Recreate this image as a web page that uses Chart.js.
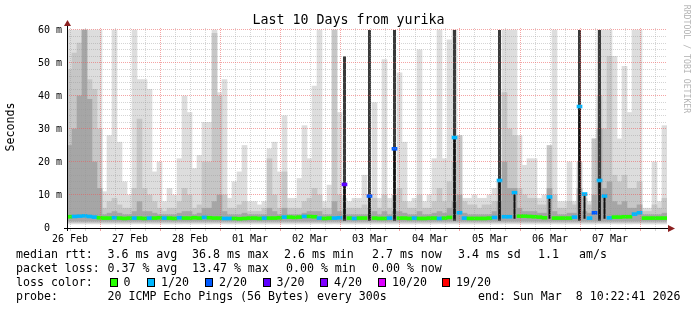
<!DOCTYPE html>
<html>
<head>
<meta charset="utf-8">
<script src="https://cdn.jsdelivr.net/npm/chart.js@4.4.1/dist/chart.umd.min.js"></script>
<style>
  html, body { margin: 0; padding: 0; background: #fff; }
  #wrap { position: relative; width: 697px; height: 310px; overflow: hidden;
          font-family: "DejaVu Sans Mono", monospace; color: #000; }
  #wrap canvas { position: absolute; left: 0; top: 0; }
  .t { position: absolute; white-space: pre; font-size: 11.6px; line-height: 14px; }
  .box { position: absolute; width: 6px; height: 7px; border: 1px solid #000; top: 278px; }
</style>
</head>
<body>
<div id="wrap">
  <canvas id="smoke" width="697" height="310"></canvas>
  <div class="t" style="left:0; width:697px; text-align:center; top:12px; font-size:13.3px; line-height:16px;">Last 10 Days from yurika</div>
  <div class="t" style="left:-30px; width:80px; text-align:center; top:120px; transform:rotate(-90deg);">Seconds</div>
  <div class="t" style="left:627px; width:120px; text-align:center; top:54px; font-size:8.2px; line-height:10px; color:#b4b4b4; transform:rotate(90deg);">RRDTOOL / TOBI OETIKER</div>

  <div class="t" style="left:16px; top:247px;">median rtt:</div>
  <div class="t" style="left:107.5px; top:247px;">3.6 ms avg</div>
  <div class="t" style="left:192px; top:247px;">36.8 ms max</div>
  <div class="t" style="left:284px; top:247px;">2.6 ms min</div>
  <div class="t" style="left:372px; top:247px;">2.7 ms now</div>
  <div class="t" style="left:458px; top:247px;">3.4 ms sd</div>
  <div class="t" style="left:538px; top:247px;">1.1</div>
  <div class="t" style="left:579px; top:247px;">am/s</div>

  <div class="t" style="left:16px; top:261px;">packet loss:</div>
  <div class="t" style="left:107.5px; top:261px;">0.37 % avg</div>
  <div class="t" style="left:192px; top:261px;">13.47 % max</div>
  <div class="t" style="left:286px; top:261px;">0.00 % min</div>
  <div class="t" style="left:372px; top:261px;">0.00 % now</div>

  <div class="t" style="left:16px; top:275px;">loss color:</div>
  <div id="losskey"></div>

  <div class="t" style="left:16px; top:289px;">probe:</div>
  <div class="t" style="left:107.5px; top:289px;">20 ICMP Echo Pings (56 Bytes) every 300s</div>
  <div class="t" style="left:478px; top:289px;">end: Sun Mar  8 10:22:41 2026</div>
</div>

<script>
// 10 days, one column per 2 hours, starting 26 Feb ~10:48
const dayLabels = ['26 Feb', '27 Feb', '28 Feb', '01 Mar', '02 Mar', '03 Mar', '04 Mar', '05 Mar', '06 Mar', '07 Mar'];
const startHour = 10.8;   // hours after 26 Feb 00:00
const spanHours = 240;

// smoke: top of the light / mid / dark bands (ms)
const lightTop = [
  60, 60, 60, 60, 60, 60, 60, 11, 28, 60,
  26, 14, 10, 60, 45, 45, 42, 17, 20, 8,
  12, 10, 21, 40, 35, 18, 22, 32, 32, 60,
  41, 45, 9, 14, 17, 25, 8, 8, 7, 8,
  24, 26, 17, 34, 9, 9, 15, 31, 21, 43,
  60, 8, 13, 60, 35, 9, 8, 9, 9, 16,
  9, 38, 9, 51, 9, 9, 47, 26, 8, 9,
  54, 8, 10, 21, 60, 21, 57, 60, 28, 9,
  9, 10, 9, 9, 10, 12, 10, 60, 60, 60,
  28, 19, 21, 21, 9, 10, 10, 60, 8, 8,
  20, 8, 10, 10, 8, 27, 60, 60, 60, 52,
  27, 49, 35, 60, 60, 6, 6, 20, 8, 31
];
const midTop = [
  48, 53, 56, 60, 45, 42, 30, 6, 8, 9,
  7, 6, 6, 12, 33, 12, 10, 8, 6, 5,
  6, 6, 8, 12, 10, 6, 7, 20, 20, 59,
  40, 10, 6, 6, 7, 8, 5, 5, 5, 6,
  21, 10, 6, 17, 6, 6, 6, 8, 9, 12,
  10, 6, 6, 60, 10, 6, 6, 6, 6, 7,
  6, 9, 6, 10, 6, 10, 12, 8, 6, 6,
  10, 6, 6, 8, 12, 8, 14, 20, 28, 8,
  7, 7, 6, 7, 7, 8, 14, 41, 30, 28,
  12, 10, 9, 9, 7, 7, 25, 10, 6, 6,
  8, 7, 20, 9, 7, 27, 40, 30, 52, 16,
  14, 16, 12, 12, 14, 5, 5, 7, 6, 9
];
const darkTop = [
  25, 30, 40, 60, 39, 20, 12, 4, 4.5, 5,
  4.5, 4, 4, 5, 8, 5, 5, 4.5, 4, 4,
  4, 4, 4.5, 5, 5, 4, 4.5, 6, 6, 8,
  10, 5, 4, 4, 4, 4.5, 4, 4, 4, 4,
  6, 5, 4, 6, 4, 4, 4, 4.5, 5, 5,
  5, 4, 4, 8, 5, 4, 4, 4, 4, 4,
  4, 5, 4, 5, 4, 5, 5, 4.5, 4, 4,
  5, 4, 4, 4.5, 5, 4.5, 6, 8, 10, 4.5,
  4, 4, 4, 4, 4, 5, 8, 20, 12, 12,
  6, 5, 5, 5, 4.5, 4.5, 12, 5, 4, 4,
  4.5, 4.5, 12, 5, 4.5, 10, 30, 12, 14, 8,
  7, 8, 6, 6, 7, 4, 4, 4, 4, 4.5
];
// near-black spikes (0 = none)
const spikeTop = [
  0, 0, 0, 0, 0, 0, 0, 0, 0, 0,
  0, 0, 0, 0, 0, 0, 0, 0, 0, 0,
  0, 0, 0, 0, 0, 0, 0, 0, 0, 0,
  0, 0, 0, 0, 0, 0, 0, 0, 0, 0,
  0, 0, 0, 0, 0, 0, 0, 0, 0, 0,
  0, 0, 0, 0, 0, 52, 0, 0, 0, 0,
  60, 0, 0, 0, 0, 60, 0, 0, 0, 0,
  0, 0, 0, 0, 0, 0, 0, 60, 0, 0,
  0, 0, 0, 0, 0, 0, 60, 0, 0, 0,
  0, 0, 0, 0, 0, 0, 0, 0, 0, 0,
  0, 0, 60, 0, 0, 0, 60, 0, 0, 0,
  0, 0, 0, 0, 0, 0, 0, 0, 0, 0
];
// median rtt (ms) and loss step per column
const median = [
  3.4, 3.5, 3.6, 3.7, 3.5, 3.3, 3.1, 3.0, 3.0, 3.1,
  3.0, 2.9, 3.0, 3.0, 3.0, 2.9, 3.0, 3.0, 3.1, 3.0,
  3.0, 2.9, 3.1, 3.0, 3.0, 3.1, 3.0, 3.2, 3.1, 3.0,
  3.0, 2.9, 2.9, 2.9, 2.8, 2.9, 3.0, 3.0, 2.9, 3.0,
  3.0, 3.0, 3.1, 3.3, 3.3, 3.2, 3.3, 3.5, 3.5, 3.4,
  3.0, 2.9, 3.0, 3.0, 3.1, 13.2, 3.0, 2.9, 3.0, 3.0,
  9.7, 3.0, 2.9, 2.9, 3.0, 24.0, 3.0, 3.0, 2.9, 3.0,
  2.9, 2.9, 3.0, 3.0, 2.9, 3.0, 3.2, 27.4, 4.6, 3.0,
  2.9, 2.9, 2.9, 2.9, 3.0, 3.2, 14.4, 3.4, 3.4, 10.7,
  3.6, 3.6, 3.5, 3.4, 3.3, 3.1, 9.4, 3.0, 3.0, 3.0,
  3.0, 3.3, 36.8, 10.3, 3.0, 4.6, 14.4, 9.7, 3.1, 3.3,
  3.3, 3.4, 3.4, 4.2, 4.6, 3.0, 3.0, 3.0, 3.0, 3.0
];
const loss = [
  0, 1, 1, 1, 1, 1, 0, 0, 0, 1,
  0, 0, 0, 1, 0, 0, 1, 0, 0, 1,
  0, 0, 1, 0, 0, 0, 0, 1, 0, 0,
  0, 1, 1, 0, 0, 0, 0, 0, 0, 1,
  0, 0, 0, 1, 0, 0, 0, 1, 0, 0,
  1, 0, 0, 1, 1, 3, 0, 1, 0, 0,
  2, 0, 0, 0, 1, 2, 0, 0, 0, 1,
  0, 0, 0, 0, 1, 0, 0, 1, 1, 1,
  0, 0, 0, 0, 0, 1, 1, 1, 1, 1,
  0, 0, 0, 0, 0, 0, 1, 0, 0, 0,
  0, 1, 1, 1, 1, 2, 1, 1, 1, 0,
  0, 0, 0, 1, 1, 0, 0, 0, 0, 0
];
const lossSteps = ['0', '1/20', '2/20', '3/20', '4/20', '10/20', '19/20'];
const lossColors = ['#26ff00', '#00b8ff', '#0059ff', '#5e00ff', '#7e00ff', '#dd00ff', '#ff0000'];

// loss colour key
const keyLeft = [109.5, 147, 205, 262.5, 320, 378, 442];
const key = document.getElementById('losskey');
lossSteps.forEach((s, i) => {
  const b = document.createElement('div');
  b.className = 'box';
  b.style.left = keyLeft[i] + 'px';
  b.style.background = lossColors[i];
  key.appendChild(b);
  const t = document.createElement('div');
  t.className = 't';
  t.style.left = (keyLeft[i] + 14) + 'px';
  t.style.top = '275px';
  t.textContent = s;
  key.appendChild(t);
});

const band = (tops, base) => tops.map(v => v > base ? [base, v] : null);
const MAJOR = 'rgba(235,90,90,0.55)';
const MINOR = 'rgba(150,150,150,0.4)';
const tickFont = { family: 'DejaVu Sans Mono', size: 10 };

const axisArrows = {
  id: 'axisArrows',
  afterDraw(chart) {
    const { ctx, chartArea: a } = chart;
    ctx.save();
    ctx.strokeStyle = '#000';
    ctx.lineWidth = 1;
    ctx.beginPath();
    ctx.moveTo(a.left - 3, a.bottom + 0.5);
    ctx.lineTo(a.right + 2, a.bottom + 0.5);
    ctx.moveTo(a.left + 0.5, a.bottom + 3);
    ctx.lineTo(a.left + 0.5, a.top - 3);
    ctx.stroke();
    ctx.fillStyle = '#8c2020';
    ctx.beginPath();
    ctx.moveTo(a.right + 1, a.bottom - 3);
    ctx.lineTo(a.right + 8, a.bottom + 0.5);
    ctx.lineTo(a.right + 1, a.bottom + 4);
    ctx.fill();
    ctx.beginPath();
    ctx.moveTo(a.left - 3, a.top - 2);
    ctx.lineTo(a.left + 0.5, a.top - 8);
    ctx.lineTo(a.left + 4, a.top - 2);
    ctx.fill();
    ctx.restore();
  }
};

new Chart(document.getElementById('smoke'), {
  type: 'bar',
  data: {
    labels: lightTop.map((_, i) => i),
    datasets: [
      { data: median.map(m => [m - 0.45, m + 0.45]), backgroundColor: loss.map(i => lossColors[i]), order: 0 },
      { data: median.map(m => m > 5 ? [2.8, m] : null), backgroundColor: '#111', barPercentage: 0.4, order: 1 },
      { data: band(spikeTop, 2.2), backgroundColor: '#3a3a3a', barPercentage: 0.6, order: 2 },
      { data: band(darkTop, 2.1), backgroundColor: '#a6a6a6', order: 3 },
      { data: band(midTop, 1.6), backgroundColor: '#c6c6c6', order: 4 },
      { data: band(lightTop, 1.2), backgroundColor: '#dddddd', order: 5 }
    ].map(d => Object.assign({ xAxisID: 'xb', borderWidth: 0, categoryPercentage: 1, barPercentage: 1, grouped: false }, d))
  },
  options: {
    responsive: false,
    animation: false,
    layout: { padding: { top: 28, right: 30, left: 0, bottom: 0 } },
    plugins: { legend: { display: false }, tooltip: { enabled: false } },
    scales: {
      xb: { type: 'category', display: false, offset: true },
      x: {
        type: 'linear', position: 'bottom', offset: false,
        min: startHour, max: startHour + spanHours,
        afterBuildTicks: s => {
          s.ticks = [];
          for (let h = Math.ceil(startHour / 6) * 6; h <= startHour + spanHours; h += 6) s.ticks.push({ value: h });
        },
        afterFit: s => { s.height = 82; },
        ticks: {
          autoSkip: false, maxRotation: 0, padding: 2, color: '#000', font: tickFont,
          callback: v => v % 24 === 12 ? dayLabels[Math.floor(v / 24)] : ''
        },
        grid: {
          z: 1, offset: false, tickLength: 3,
          color: c => c.tick && c.tick.value % 24 === 0 ? MAJOR : MINOR,
          tickColor: c => c.tick && c.tick.value % 24 === 0 ? MAJOR : MINOR
        },
        border: { display: false, dash: [1, 1] }
      },
      y: {
        min: 0, max: 60.6,
        afterBuildTicks: s => {
          s.ticks = [];
          for (let v = 0; v <= 60; v += 2) s.ticks.push({ value: v });
        },
        afterFit: s => { s.width = 67; },
        ticks: {
          autoSkip: false, padding: 5, color: '#000', font: tickFont,
          callback: v => v % 10 === 0 ? (v === 0 ? '0  ' : v + ' m') : ''
        },
        grid: {
          z: 1, drawTicks: false,
          color: c => c.tick && c.tick.value % 10 === 0 ? MAJOR : MINOR
        },
        border: { display: false, dash: [1, 1] }
      }
    }
  },
  plugins: [axisArrows]
});
</script>
</body>
</html>
